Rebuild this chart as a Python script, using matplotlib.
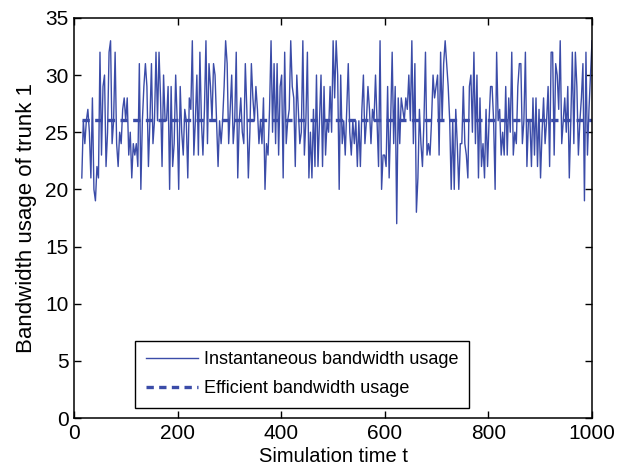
import numpy as np
import matplotlib
matplotlib.use("Agg")
import matplotlib.pyplot as plt

# ---------------- Data ----------------
T_START, T_END = 15, 1000
EFFICIENT = 26.1

usage = [
    # t ~ 15..88
    21, 26, 24, 26, 27, 25, 21, 28, 20, 19, 22, 21, 32, 23, 29, 30, 22, 25, 32, 33, 24, 26, 32, 24, 22,
    # t ~ 88..181
    25, 24, 27, 28, 26, 28, 23, 25, 21, 24, 23, 24, 22, 31, 20, 26, 29, 31, 29, 22, 26, 31, 24, 26, 32, 26, 32, 28, 22, 30, 26,
    # t ~ 181..274
    26, 29, 20, 29, 22, 24, 30, 26, 20, 29, 25, 23, 27, 26, 21, 28, 27, 33, 23, 26, 30, 23, 32, 26, 23, 27, 33, 24, 31, 29, 26,
    # t ~ 274..367
    31, 30, 26, 22, 26, 24, 26, 29, 33, 31, 24, 27, 30, 24, 26, 32, 21, 26, 28, 25, 24, 31, 27, 21, 25, 31, 28, 26, 29, 27, 24, 26,
    # t ~ 367..459
    24, 28, 20, 24, 23, 27, 33, 25, 31, 24, 31, 23, 29, 30, 21, 32, 24, 26, 27, 33, 29, 28, 22, 30, 27, 24, 25, 33, 23, 26, 32, 21,
    # t ~ 459..552
    25, 21, 27, 22, 30, 22, 26, 30, 22, 29, 23, 26, 25, 29, 25, 33, 28, 33, 30, 20, 30, 24, 26, 23, 27, 31, 25, 23, 26, 24, 26, 22,
    # t ~ 552..645
    26, 22, 27, 30, 24, 26, 29, 27, 24, 27, 26, 30, 26, 22, 33, 20, 23, 23, 22, 29, 21, 26, 32, 24, 29, 17, 28, 24, 28, 27, 26, 28,
    # t ~ 645..737
    27, 30, 26, 33, 24, 31, 18, 21, 27, 24, 22, 26, 32, 23, 24, 23, 26, 30, 28, 29, 30, 23, 32, 26, 31, 33, 31, 29, 26, 20, 26, 20,
    # t ~ 737..830
    27, 24, 20, 24, 24, 29, 24, 23, 21, 29, 30, 25, 32, 24, 30, 21, 28, 22, 24, 21, 27, 22, 26, 29, 29, 26, 20, 32, 26, 27, 23, 25,
    # t ~ 830..923
    23, 29, 23, 28, 25, 32, 23, 25, 24, 29, 31, 31, 24, 26, 32, 22, 26, 26, 22, 28, 23, 28, 22, 27, 21, 25, 28, 24, 26, 29, 22, 32,
    # t ~ 923..1000
    32, 23, 31, 30, 27, 33, 24, 26, 28, 25, 29, 21, 26, 32, 24, 32, 29, 23, 26, 28, 31, 19, 32, 23, 27, 30, 33,
]
t = np.linspace(T_START, T_END, len(usage))

x_ticks = [0, 200, 400, 600, 800, 1000]
y_ticks = [0, 5, 10, 15, 20, 25, 30, 35]

# ---------------- Plot ----------------
plt.rcParams["font.family"] = ["Liberation Sans", "DejaVu Sans"]

color = "#3b4ca8"

fig = plt.figure(figsize=(6.17, 4.71), dpi=100)
ax = fig.add_axes([0.12, 0.1125, 0.8395, 0.8495])

ax.plot(t, usage, color=color, lw=1.0, label="Instantaneous bandwidth usage")
ax.plot([T_START, T_END], [EFFICIENT, EFFICIENT], color=color, lw=2.4,
        ls=(0, (2.2, 1.6)), label="Efficient bandwidth usage")

ax.set_xlim(0, 1000)
ax.set_ylim(0, 35)
ax.set_xticks(x_ticks)
ax.set_yticks(y_ticks)
ax.tick_params(direction="in", top=True, right=True, length=5, width=1,
               labelsize=15, pad=4)
for s in ax.spines.values():
    s.set_linewidth(1.1)

ax.set_xlabel("Simulation time t", fontsize=14.5, labelpad=3)
ax.set_ylabel("Bandwidth usage of trunk 1", fontsize=16, labelpad=6)

leg = ax.legend(loc="lower center", bbox_to_anchor=(0.44, 0.025), borderaxespad=0,
                fancybox=False, edgecolor="black", framealpha=1,
                handlelength=2.9, handletextpad=0.3,
                borderpad=0.6, labelspacing=0.65, fontsize=13)
leg.get_frame().set_linewidth(1.0)

fig.savefig("out.png", dpi=100)
